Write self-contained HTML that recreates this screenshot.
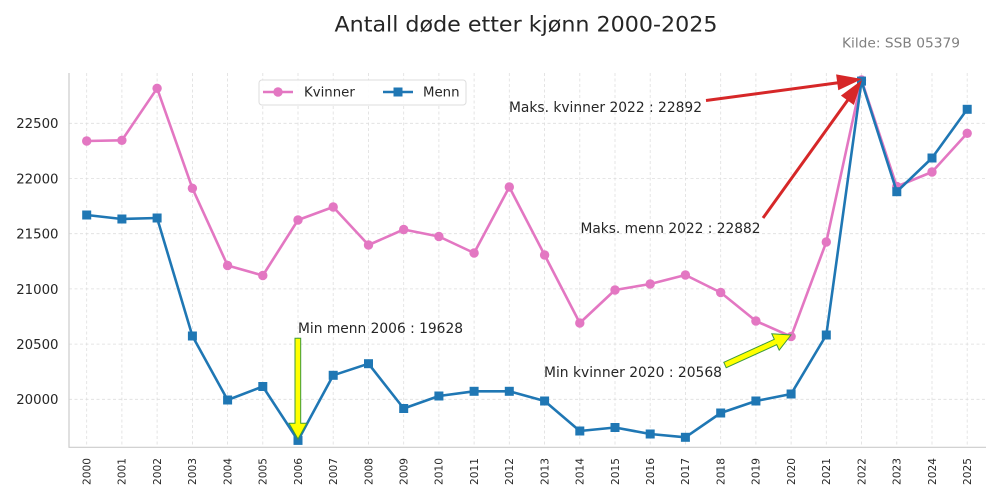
<!DOCTYPE html>
<html>
<head>
<meta charset="utf-8">
<style>
html,body{margin:0;padding:0;background:#fff;}
svg{display:block;}
text{font-family:"DejaVu Sans","Liberation Sans",sans-serif;fill:#262626;}
</style>
</head>
<body>
<svg width="1000" height="500" viewBox="0 0 1000 500" xmlns="http://www.w3.org/2000/svg">
<defs>
<marker id="mc" markerWidth="12" markerHeight="12" refX="6" refY="6" markerUnits="userSpaceOnUse"><circle cx="6" cy="6" r="4.7" fill="#e377c2"/></marker>
<marker id="ms" markerWidth="12" markerHeight="12" refX="6" refY="6" markerUnits="userSpaceOnUse"><rect x="1.5" y="1.5" width="9" height="9" fill="#1f77b4"/></marker>
</defs>
<rect width="1000" height="500" fill="#fff"/>

<!-- title -->
<text x="526" y="31.5" font-size="21.5" text-anchor="middle" textLength="383" lengthAdjust="spacingAndGlyphs">Antall døde etter kjønn 2000-2025</text>
<text x="842" y="47.5" font-size="13.5" style="fill:#808080" textLength="118" lengthAdjust="spacingAndGlyphs">Kilde: SSB 05379</text>

<!-- grid -->
<g stroke="#dedede" stroke-width="0.8" stroke-dasharray="3,2.5" fill="none">
<line x1="69" x2="986" y1="123.3" y2="123.3"/>
<line x1="69" x2="986" y1="178.5" y2="178.5"/>
<line x1="69" x2="986" y1="233.7" y2="233.7"/>
<line x1="69" x2="986" y1="288.9" y2="288.9"/>
<line x1="69" x2="986" y1="344.1" y2="344.1"/>
<line x1="69" x2="986" y1="399.3" y2="399.3"/>
<line x1="86.7" x2="86.7" y1="73" y2="447"/>
<line x1="121.9" x2="121.9" y1="73" y2="447"/>
<line x1="157.1" x2="157.1" y1="73" y2="447"/>
<line x1="192.4" x2="192.4" y1="73" y2="447"/>
<line x1="227.6" x2="227.6" y1="73" y2="447"/>
<line x1="262.8" x2="262.8" y1="73" y2="447"/>
<line x1="298.0" x2="298.0" y1="73" y2="447"/>
<line x1="333.2" x2="333.2" y1="73" y2="447"/>
<line x1="368.5" x2="368.5" y1="73" y2="447"/>
<line x1="403.7" x2="403.7" y1="73" y2="447"/>
<line x1="438.9" x2="438.9" y1="73" y2="447"/>
<line x1="474.1" x2="474.1" y1="73" y2="447"/>
<line x1="509.3" x2="509.3" y1="73" y2="447"/>
<line x1="544.6" x2="544.6" y1="73" y2="447"/>
<line x1="579.8" x2="579.8" y1="73" y2="447"/>
<line x1="615.0" x2="615.0" y1="73" y2="447"/>
<line x1="650.2" x2="650.2" y1="73" y2="447"/>
<line x1="685.4" x2="685.4" y1="73" y2="447"/>
<line x1="720.7" x2="720.7" y1="73" y2="447"/>
<line x1="755.9" x2="755.9" y1="73" y2="447"/>
<line x1="791.1" x2="791.1" y1="73" y2="447"/>
<line x1="826.3" x2="826.3" y1="73" y2="447"/>
<line x1="861.5" x2="861.5" y1="73" y2="447"/>
<line x1="896.8" x2="896.8" y1="73" y2="447"/>
<line x1="932.0" x2="932.0" y1="73" y2="447"/>
<line x1="967.2" x2="967.2" y1="73" y2="447"/>
</g>

<!-- spines -->
<line x1="69" x2="69" y1="73" y2="447.5" stroke="#cccccc" stroke-width="1.2"/>
<line x1="68.5" x2="986" y1="447.3" y2="447.3" stroke="#cccccc" stroke-width="1.2"/>

<!-- y tick labels -->
<g font-size="13.3" text-anchor="end">
<text x="58.5" y="128.2">22500</text>
<text x="58.5" y="183.4">22000</text>
<text x="58.5" y="238.6">21500</text>
<text x="58.5" y="293.8">21000</text>
<text x="58.5" y="349.0">20500</text>
<text x="58.5" y="404.2">20000</text>
</g>

<!-- x tick labels -->
<g font-size="10.6" text-anchor="end">
<text transform="translate(90.5,458) rotate(-90)">2000</text>
<text transform="translate(125.7,458) rotate(-90)">2001</text>
<text transform="translate(160.9,458) rotate(-90)">2002</text>
<text transform="translate(196.2,458) rotate(-90)">2003</text>
<text transform="translate(231.4,458) rotate(-90)">2004</text>
<text transform="translate(266.6,458) rotate(-90)">2005</text>
<text transform="translate(301.8,458) rotate(-90)">2006</text>
<text transform="translate(337.0,458) rotate(-90)">2007</text>
<text transform="translate(372.3,458) rotate(-90)">2008</text>
<text transform="translate(407.5,458) rotate(-90)">2009</text>
<text transform="translate(442.7,458) rotate(-90)">2010</text>
<text transform="translate(477.9,458) rotate(-90)">2011</text>
<text transform="translate(513.1,458) rotate(-90)">2012</text>
<text transform="translate(548.4,458) rotate(-90)">2013</text>
<text transform="translate(583.6,458) rotate(-90)">2014</text>
<text transform="translate(618.8,458) rotate(-90)">2015</text>
<text transform="translate(654.0,458) rotate(-90)">2016</text>
<text transform="translate(689.2,458) rotate(-90)">2017</text>
<text transform="translate(724.5,458) rotate(-90)">2018</text>
<text transform="translate(759.7,458) rotate(-90)">2019</text>
<text transform="translate(794.9,458) rotate(-90)">2020</text>
<text transform="translate(830.1,458) rotate(-90)">2021</text>
<text transform="translate(865.3,458) rotate(-90)">2022</text>
<text transform="translate(900.6,458) rotate(-90)">2023</text>
<text transform="translate(935.8,458) rotate(-90)">2024</text>
<text transform="translate(971.0,458) rotate(-90)">2025</text>
</g>

<!-- Kvinner -->
<polyline fill="none" stroke="#e377c2" stroke-width="2.6" stroke-linejoin="round"
marker-start="url(#mc)" marker-mid="url(#mc)" marker-end="url(#mc)"
points="86.7,141 121.9,140.3 157.1,88.3 192.4,188.3 227.6,265.5 262.8,275.5 298.0,220 333.2,207 368.5,245 403.7,229.5 438.9,236.5 474.1,253 509.3,187 544.6,255 579.8,323 615.0,290 650.2,284 685.4,275 720.7,292.5 755.9,321 791.1,336.6 826.3,242 861.5,80.0 896.8,186.5 932.0,172 967.2,133.3"/>

<!-- Menn -->
<polyline fill="none" stroke="#1f77b4" stroke-width="2.6" stroke-linejoin="round"
marker-start="url(#ms)" marker-mid="url(#ms)" marker-end="url(#ms)"
points="86.7,215 121.9,219 157.1,218 192.4,336 227.6,400 262.8,386.5 298.0,440.4 333.2,375.3 368.5,363.7 403.7,408.5 438.9,396 474.1,391.3 509.3,391.3 544.6,401 579.8,431 615.0,427.5 650.2,434 685.4,437.3 720.7,413 755.9,401 791.1,394 826.3,335 861.5,81.1 896.8,191.7 932.0,158 967.2,109.3"/>

<!-- legend -->
<rect x="259" y="80" width="207" height="25" rx="3" fill="#fff" fill-opacity="0.9" stroke="#dddddd" stroke-width="1"/>
<line x1="263" x2="293" y1="92" y2="92" stroke="#e377c2" stroke-width="2.6"/>
<circle cx="278" cy="92" r="4.7" fill="#e377c2"/>
<text x="304" y="96.5" font-size="13.3">Kvinner</text>
<line x1="383" x2="413" y1="92" y2="92" stroke="#1f77b4" stroke-width="2.6"/>
<rect x="393.5" y="87.5" width="9" height="9" fill="#1f77b4"/>
<text x="423" y="96.5" font-size="13.3">Menn</text>

<!-- red arrows -->
<line x1="706" y1="100.5" x2="840" y2="82.5" stroke="#d62728" stroke-width="3"/>
<polygon points="862,79 838.3,90.2 836.1,74.4" fill="#d62728"/>
<line x1="763" y1="218" x2="850" y2="97" stroke="#d62728" stroke-width="3"/>
<polygon points="862,80 853.9,105.0 840.9,95.6" fill="#d62728"/>

<!-- yellow arrows -->
<polygon points="295,338.3 300.7,338.3 300.7,423.3 306.7,423.3 298,439 289,423.3 295,423.3" fill="#ffff00" stroke="#3c9a3c" stroke-width="1"/>
<polygon points="723.8,362.3 774.3,339.3 771.8,333.8 791,335 779.2,350.2 776.7,344.7 726.2,367.7" fill="#ffff00" stroke="#3c9a3c" stroke-width="1"/>

<!-- annotation texts -->
<g font-size="13.9">
<text x="509" y="112" textLength="193" lengthAdjust="spacingAndGlyphs">Maks. kvinner 2022 : 22892</text>
<text x="580.5" y="233" textLength="180" lengthAdjust="spacingAndGlyphs">Maks. menn 2022 : 22882</text>
<text x="298" y="333" textLength="165" lengthAdjust="spacingAndGlyphs">Min menn 2006 : 19628</text>
<text x="544" y="377" textLength="178" lengthAdjust="spacingAndGlyphs">Min kvinner 2020 : 20568</text>
</g>
</svg>
</body>
</html>
